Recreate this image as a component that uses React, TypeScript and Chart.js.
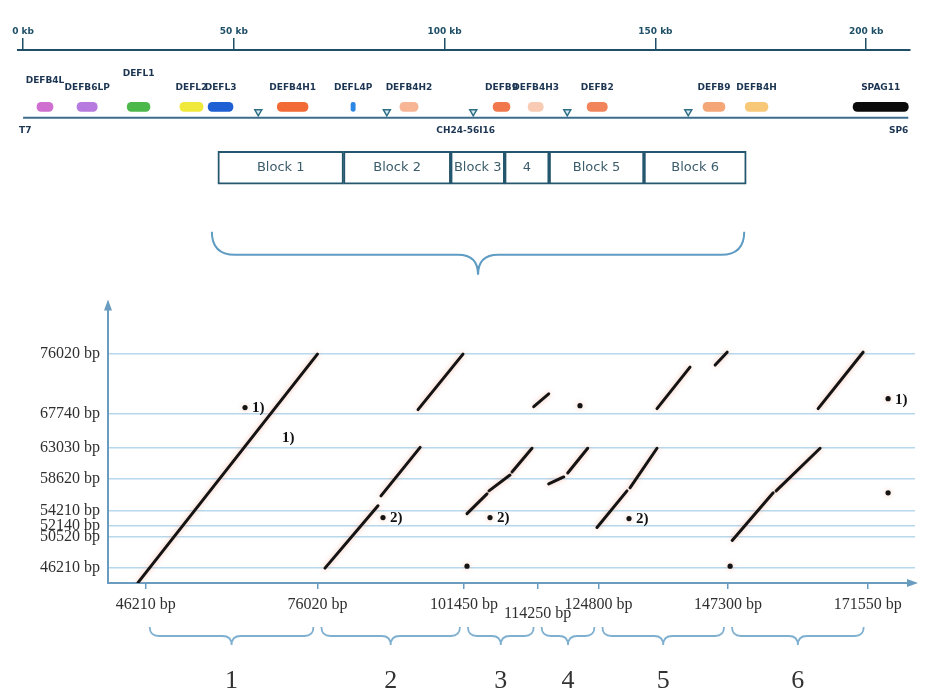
import React, { useEffect, useRef } from 'react';
import { Chart, registerables } from 'chart.js';

Chart.register(...registerables);

const W = 933;
const MAP_H = 285;
const PLOT_H = 410;

// ---------- gene map (kb) ----------
const rulerTicksKb = [0, 50, 100, 150, 200];
const cloneEndsKb = [0, 210];
const cloneEndNames = ['T7', 'SP6'];
const cloneName = 'CH24-56I16';

const geneNames = ['DEFB4L', 'DEFB6LP', 'DEFL1', 'DEFL2', 'DEFL3', 'DEFB4H1', 'DEFL4P', 'DEFB4H2', 'DEFB9', 'DEFB4H3', 'DEFB2', 'DEFB9', 'DEFB4H', 'SPAG11'];
const geneStartKb = [3.3, 12.8, 24.7, 37.2, 43.9, 60.3, 77.8, 89.4, 111.5, 119.8, 133.8, 161.3, 171.3, 196.9];
const geneEndKb = [7.1, 17.6, 30.1, 42.7, 49.8, 67.6, 78.8, 93.7, 115.5, 123.4, 138.6, 166.5, 176.7, 210.0];
const geneColors = ['#cf6fcf', '#b77be0', '#4db84a', '#f0e83a', '#1e5fd3', '#f26a36', '#2b86e6', '#f7b596', '#f1784c', '#f9cbb4', '#f1845a', '#f5a676', '#f7c878', '#0a0a0a'];
const geneLabelTier = [1, 0, 2, 0, 0, 0, 0, 0, 0, 0, 0, 0, 0, 0];
const repeatMarksKb = [55.8, 86.3, 106.8, 129.1, 157.8];

// ---------- blocks (bp) ----------
const blockNames = ['Block 1', 'Block 2', 'Block 3', '4', 'Block 5', 'Block 6'];
const blockNumbers = ['1', '2', '3', '4', '5', '6'];
const blockStartBp = [46210, 76020, 101450, 114250, 124800, 147300];
const blockEndBp = [76020, 101450, 114250, 124800, 147300, 171550];

// ---------- dot plot (bp) ----------
const xTickBp = [46210, 76020, 101450, 114250, 124800, 147300, 171550];
const yTickBp = [46210, 50520, 52140, 54210, 58620, 63030, 67740, 76020];

// [x1, y1, x2, y2]
const alignSegments: number[][] = [
  [44870, 44200, 76020, 76020],
  [77330, 46210, 86530, 54900],
  [87050, 56280, 93850, 63030],
  [93480, 68290, 101290, 76020],
  [101990, 53800, 105460, 56560],
  [105800, 56970, 109450, 59180],
  [109800, 59600, 113270, 62910],
  [113570, 68700, 116170, 70500],
  [116170, 57940, 118780, 58910],
  [119470, 59460, 122940, 62910],
  [124550, 51870, 129760, 56970],
  [130280, 57390, 134970, 62910],
  [134970, 68430, 140700, 74220],
  [145070, 74500, 147150, 76290],
  [148020, 50070, 155140, 56700],
  [155650, 56970, 163290, 62910],
  [162940, 68430, 170750, 76290],
];

const dotX = [63450, 87400, 101990, 105980, 121600, 130110, 147670, 175090, 175090];
const dotY = [68570, 53250, 46490, 53250, 68840, 53110, 46490, 69810, 56700];
const dotNote = ['1)', '2)', '', '2)', '', '2)', '', '1)', ''];
const noteX = [69870];
const noteY = [64290];
const noteText = ['1)'];

const GENE_ROW = 5.7;
const MARK_ROW = 6.2;
const CLONE_ROW = 6.8;
const BLOCK_ROW = 11.8;

const TEAL = '#1f4f66';
const AXIS = '#6a9cc0';

function drawBrace(ctx: CanvasRenderingContext2D, x1: number, x2: number, yTop: number, yMid: number, yTip: number) {
  const xc = (x1 + x2) / 2;
  const r = Math.min(yMid - yTop, (x2 - x1) / 4);
  const r2 = Math.min(yTip - yMid, (x2 - x1) / 4);
  ctx.beginPath();
  ctx.moveTo(x1, yTop);
  ctx.quadraticCurveTo(x1, yMid, x1 + r, yMid);
  ctx.lineTo(xc - r2, yMid);
  ctx.quadraticCurveTo(xc, yMid, xc, yTip);
  ctx.moveTo(x2, yTop);
  ctx.quadraticCurveTo(x2, yMid, x2 - r, yMid);
  ctx.lineTo(xc + r2, yMid);
  ctx.quadraticCurveTo(xc, yMid, xc, yTip);
  ctx.stroke();
}

const mapDecor = {
  id: 'mapDecor',
  afterDatasetsDraw(chart: any) {
    const ctx: CanvasRenderingContext2D = chart.ctx;
    const x = chart.scales.x;
    const y = chart.scales.y;
    ctx.save();
    // gene labels
    ctx.font = 'bold 9px "DejaVu Sans"';
    ctx.fillStyle = '#1c3552';
    ctx.textAlign = 'center';
    ctx.textBaseline = 'middle';
    geneNames.forEach((n, i) => {
      const cx = x.getPixelForValue((geneStartKb[i] + geneEndKb[i]) / 2);
      const cy = y.getPixelForValue(GENE_ROW) - 19 - geneLabelTier[i] * 7;
      ctx.fillText(n, cx, cy);
    });
    // clone labels
    const cy2 = y.getPixelForValue(CLONE_ROW) + 13;
    ctx.textAlign = 'left';
    ctx.fillText(cloneEndNames[0], x.getPixelForValue(cloneEndsKb[0]) - 4, cy2);
    ctx.textAlign = 'right';
    ctx.fillText(cloneEndNames[1], x.getPixelForValue(cloneEndsKb[1]), cy2);
    ctx.textAlign = 'center';
    ctx.fillText(cloneName, x.getPixelForValue((cloneEndsKb[0] + cloneEndsKb[1]) / 2), cy2);
    // block labels
    ctx.font = '13px "DejaVu Sans"';
    ctx.fillStyle = '#3c5d6c';
    const by = y.getPixelForValue(BLOCK_ROW);
    blockNames.forEach((n, i) => {
      const cx = x.getPixelForValue((blockStartBp[i] + blockEndBp[i]) / 2000);
      ctx.fillText(n, cx, by);
    });
    // big brace
    ctx.strokeStyle = '#5f9cc4';
    ctx.lineWidth = 2;
    const bx1 = x.getPixelForValue(blockStartBp[0] / 1000) - 6;
    const bx2 = x.getPixelForValue(blockEndBp[blockEndBp.length - 1] / 1000) - 2;
    drawBrace(ctx, bx1, bx2, by + 64, by + 87, by + 107);
    ctx.restore();
  },
};

const plotDecor = {
  id: 'plotDecor',
  beforeDatasetsDraw(chart: any) {
    const ctx = chart.ctx;
    ctx.save();
    ctx.shadowColor = 'rgba(240,140,110,0.55)';
    ctx.shadowBlur = 5;
  },
  afterDatasetsDraw(chart: any) {
    const ctx: CanvasRenderingContext2D = chart.ctx;
    ctx.restore();
    const x = chart.scales.x;
    const y = chart.scales.y;
    const area = chart.chartArea;
    ctx.save();
    // notes
    ctx.font = 'bold 15px "Liberation Serif"';
    ctx.fillStyle = '#111';
    ctx.textAlign = 'left';
    ctx.textBaseline = 'middle';
    dotNote.forEach((n, i) => {
      if (!n) return;
      ctx.fillText(n, x.getPixelForValue(dotX[i]) + 7, y.getPixelForValue(dotY[i]) + 1);
    });
    noteText.forEach((n, i) => {
      ctx.fillText(n, x.getPixelForValue(noteX[i]), y.getPixelForValue(noteY[i]));
    });
    // arrows
    ctx.fillStyle = AXIS;
    ctx.beginPath();
    ctx.moveTo(area.left, area.top - 3);
    ctx.lineTo(area.left - 4, area.top + 8);
    ctx.lineTo(area.left + 4, area.top + 8);
    ctx.closePath();
    ctx.fill();
    ctx.beginPath();
    ctx.moveTo(area.right + 3, area.bottom);
    ctx.lineTo(area.right - 8, area.bottom - 4);
    ctx.lineTo(area.right - 8, area.bottom + 4);
    ctx.closePath();
    ctx.fill();
    // braces and numbers
    ctx.strokeStyle = '#7fb0d0';
    ctx.lineWidth = 1.8;
    const b = area.bottom;
    blockStartBp.forEach((s, i) => {
      const x1 = x.getPixelForValue(s) + 4;
      const x2 = x.getPixelForValue(blockEndBp[i]) - 4;
      drawBrace(ctx, x1, x2, b + 44, b + 53, b + 62);
      ctx.font = '26px "Liberation Serif"';
      ctx.fillStyle = '#333';
      ctx.textAlign = 'center';
      ctx.fillText(blockNumbers[i], (x1 + x2) / 2, b + 98);
    });
    ctx.restore();
  },
};

export default function App() {
  const mapRef = useRef<HTMLCanvasElement>(null);
  const plotRef = useRef<HTMLCanvasElement>(null);

  useEffect(() => {
    const mapChart = new Chart(mapRef.current as HTMLCanvasElement, {
      type: 'scatter',
      data: {
        datasets: [
          {
            type: 'bar',
            indexAxis: 'y',
            yAxisID: 'y',
            stack: 'map',
            data: geneNames.map((_, i) => ({ x: [geneStartKb[i], geneEndKb[i]], y: GENE_ROW })),
            backgroundColor: geneColors,
            borderWidth: 0,
            borderSkipped: false,
            borderRadius: 6,
            barThickness: 9,
          } as any,
          {
            type: 'bar',
            indexAxis: 'y',
            yAxisID: 'y',
            stack: 'map',
            data: blockNames.map((_, i) => ({ x: [blockStartBp[i] / 1000, blockEndBp[i] / 1000], y: BLOCK_ROW })),
            backgroundColor: '#ffffff',
            borderColor: '#24566d',
            borderWidth: 2,
            borderSkipped: false,
            barThickness: 33,
          } as any,
          {
            type: 'scatter',
            yAxisID: 'y2',
            data: cloneEndsKb.map((v) => ({ x: v, y: CLONE_ROW })),
            showLine: true,
            borderColor: '#3d6d8c',
            borderWidth: 2,
            pointRadius: 0,
          } as any,
          {
            type: 'scatter',
            yAxisID: 'y2',
            data: repeatMarksKb.map((v) => ({ x: v, y: MARK_ROW })),
            pointStyle: 'triangle',
            rotation: 180,
            pointRadius: 4,
            borderColor: '#2f6f86',
            backgroundColor: '#d4e9f1',
            borderWidth: 1.5,
          } as any,
        ],
      },
      options: {
        animation: false,
        responsive: false,
        devicePixelRatio: 1,
        events: [],
        layout: { padding: { left: 18, right: 23, top: 0, bottom: 5 } },
        plugins: { legend: { display: false }, tooltip: { enabled: false } },
        scales: {
          x: {
            type: 'linear',
            position: 'top',
            min: -1.2,
            max: 210.4,
            afterBuildTicks: (s: any) => { s.ticks = rulerTicksKb.map((v) => ({ value: v })); },
            afterFit: (s: any) => { s.height = 50; },
            grid: { drawOnChartArea: false, drawTicks: true, tickLength: 12, color: TEAL, lineWidth: 1.5 },
            border: { color: TEAL, width: 2 },
            ticks: {
              autoSkip: false,
              maxRotation: 0,
              padding: 1,
              color: TEAL,
              font: { family: 'DejaVu Sans', size: 9, weight: 'bold' },
              callback: (v: any) => `${v} kb`,
            },
          },
          y: { type: 'linear', display: false, min: 0, max: 23, reverse: true, stacked: true, offset: false },
          y2: { type: 'linear', display: false, min: 0, max: 23, reverse: true, offset: false },
        },
      } as any,
      plugins: [mapDecor],
    });

    const plotChart = new Chart(plotRef.current as HTMLCanvasElement, {
      type: 'scatter',
      data: {
        datasets: [
          ...alignSegments.map((s) => ({
            data: [{ x: s[0], y: s[1] }, { x: s[2], y: s[3] }],
            showLine: true,
            borderColor: '#141414',
            borderWidth: 3,
            pointRadius: 0,
            borderCapStyle: 'round',
          })),
          {
            data: dotX.map((v, i) => ({ x: v, y: dotY[i] })),
            pointRadius: 2.6,
            backgroundColor: '#141414',
            borderWidth: 0,
          },
        ] as any,
      },
      options: {
        animation: false,
        responsive: false,
        devicePixelRatio: 1,
        events: [],
        layout: { padding: { left: 0, right: 18, top: 15, bottom: 0 } },
        plugins: { legend: { display: false }, tooltip: { enabled: false } },
        scales: {
          x: {
            type: 'linear',
            min: 39660,
            max: 179760,
            afterBuildTicks: (s: any) => { s.ticks = xTickBp.map((v) => ({ value: v })); },
            afterFit: (s: any) => { s.height = 112; },
            grid: { drawOnChartArea: false, drawTicks: true, tickLength: 6, color: AXIS, lineWidth: 1.5 },
            border: { color: AXIS, width: 2 },
            ticks: {
              autoSkip: false,
              maxRotation: 0,
              padding: 6,
              color: '#2f2f2f',
              font: (c: any) => ({ family: 'Liberation Serif', size: 16, lineHeight: c.index === 3 ? 0.8 : 1.2 }),
              callback: (v: any, i: number) => (i === 3 ? ['', `${v} bp`] : `${v} bp`),
            },
          },
          y: {
            type: 'linear',
            min: 44140,
            max: 83200,
            afterBuildTicks: (s: any) => { s.ticks = yTickBp.map((v) => ({ value: v })); },
            afterFit: (s: any) => { s.width = 108; },
            grid: { drawTicks: false, color: '#b8d8ec', lineWidth: 1.5 },
            border: { color: AXIS, width: 2 },
            ticks: {
              autoSkip: false,
              padding: 8,
              color: '#2f2f2f',
              font: { family: 'Liberation Serif', size: 16 },
              callback: (v: any) => `${v} bp`,
            },
          },
        },
      } as any,
      plugins: [plotDecor],
    });

    return () => {
      mapChart.destroy();
      plotChart.destroy();
    };
  }, []);

  return (
    <div style={{ position: 'fixed', left: 0, top: 0, width: W, height: MAP_H + PLOT_H, background: '#fff' }}>
      <canvas ref={mapRef} width={W} height={MAP_H} style={{ display: 'block', width: W, height: MAP_H }} />
      <canvas ref={plotRef} width={W} height={PLOT_H} style={{ display: 'block', width: W, height: PLOT_H }} />
    </div>
  );
}
